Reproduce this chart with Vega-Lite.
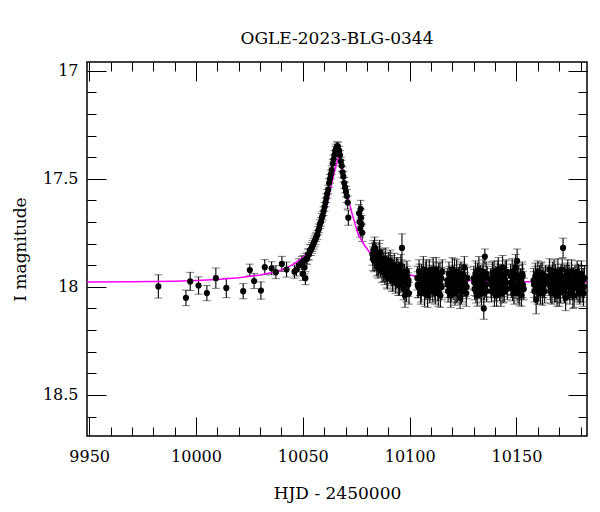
{
  "$schema": "https://vega.github.io/schema/vega-lite/v6.json",
  "width": 500,
  "height": 374,
  "autosize": {"type": "none"},
  "padding": {"left": 87, "top": 62, "right": 13, "bottom": 76},
  "title": {"text": "OGLE-2023-BLG-0344", "font": "DejaVu Serif", "fontSize": 17, "fontWeight": "normal", "color": "#000", "offset": 14},
  "config": {
    "view": {"stroke": "#000", "strokeWidth": 1.5},
    "axis": {"grid": false, "domain": false, "tickColor": "#000", "tickWidth": 1, "labelColor": "#000", "titleColor": "#000", "labelFont": "DejaVu Serif", "titleFont": "DejaVu Serif", "labelFontSize": 16, "titleFontSize": 17, "titleFontWeight": "normal", "zindex": 1}
  },
  "datasets": {
    "obs": [
      {"t":9982.4,"m":17.998,"e":0.054},{"t":9995.3,"m":18.051,"e":0.036},{"t":9997.3,"m":17.975,"e":0.042},{"t":10001.2,"m":17.994,"e":0.04},{"t":10005.1,"m":18.029,"e":0.035},{"t":10009.3,"m":17.96,"e":0.047},{"t":10014.2,"m":18.005,"e":0.045},{"t":10022.1,"m":18.02,"e":0.035},{"t":10025.2,"m":17.922,"e":0.027},{"t":10027.2,"m":17.973,"e":0.035},{"t":10030.4,"m":18.017,"e":0.04},{"t":10032.2,"m":17.909,"e":0.035},{"t":10035.4,"m":17.914,"e":0.03},{"t":10037.4,"m":17.932,"e":0.03},{"t":10040.2,"m":17.894,"e":0.035},{"t":10042.4,"m":17.92,"e":0.035},
      {"t":10046.1,"m":17.93,"e":0.03},{"t":10047.0,"m":17.92,"e":0.03},{"t":10048.2,"m":17.90,"e":0.03},{"t":10049.5,"m":17.89,"e":0.03},{"t":10049.9,"m":17.94,"e":0.03},{"t":10050.3,"m":17.88,"e":0.025},{"t":10050.8,"m":17.91,"e":0.03},{"t":10051.2,"m":17.96,"e":0.03},{"t":10051.6,"m":17.87,"e":0.025},{"t":10052.0,"m":17.87,"e":0.025},{"t":10052.4,"m":17.85,"e":0.025},{"t":10052.9,"m":17.85,"e":0.025},{"t":10053.3,"m":17.83,"e":0.025},{"t":10053.8,"m":17.83,"e":0.025},{"t":10054.2,"m":17.82,"e":0.025},{"t":10054.6,"m":17.81,"e":0.025},{"t":10055.0,"m":17.80,"e":0.025},{"t":10055.5,"m":17.79,"e":0.025},{"t":10055.9,"m":17.78,"e":0.025},{"t":10056.3,"m":17.77,"e":0.02},{"t":10056.8,"m":17.76,"e":0.02},{"t":10057.2,"m":17.74,"e":0.02},{"t":10057.6,"m":17.73,"e":0.02},{"t":10058.0,"m":17.71,"e":0.02},{"t":10058.5,"m":17.70,"e":0.02},{"t":10058.9,"m":17.68,"e":0.02},{"t":10059.3,"m":17.67,"e":0.02},{"t":10059.7,"m":17.65,"e":0.02},{"t":10060.2,"m":17.63,"e":0.02},{"t":10060.6,"m":17.61,"e":0.02},{"t":10061.0,"m":17.59,"e":0.02},{"t":10061.4,"m":17.57,"e":0.02},{"t":10061.9,"m":17.55,"e":0.02},{"t":10062.3,"m":17.52,"e":0.02},{"t":10062.7,"m":17.50,"e":0.02},{"t":10063.1,"m":17.48,"e":0.02},{"t":10063.5,"m":17.46,"e":0.02},{"t":10064.0,"m":17.43,"e":0.02},{"t":10064.4,"m":17.41,"e":0.02},{"t":10064.8,"m":17.39,"e":0.02},{"t":10065.2,"m":17.37,"e":0.02},{"t":10065.6,"m":17.36,"e":0.02},{"t":10066.0,"m":17.35,"e":0.02},{"t":10066.4,"m":17.35,"e":0.02},
      {"t":10067.0,"m":17.37,"e":0.02},{"t":10067.4,"m":17.39,"e":0.02},{"t":10067.8,"m":17.42,"e":0.02},{"t":10068.2,"m":17.44,"e":0.025},{"t":10068.6,"m":17.47,"e":0.025},{"t":10069.0,"m":17.49,"e":0.025},{"t":10069.4,"m":17.52,"e":0.025},{"t":10069.8,"m":17.54,"e":0.025},{"t":10070.2,"m":17.56,"e":0.025},{"t":10070.6,"m":17.58,"e":0.03},{"t":10071.0,"m":17.61,"e":0.03},{"t":10071.3,"m":17.68,"e":0.035},
      {"t":10076.3,"m":17.66,"e":0.04},{"t":10076.6,"m":17.70,"e":0.04},{"t":10076.9,"m":17.73,"e":0.04},{"t":10077.1,"m":17.64,"e":0.04},{"t":10077.2,"m":17.68,"e":0.04},{"t":10077.5,"m":17.71,"e":0.04},{"t":10077.8,"m":17.75,"e":0.04},
      {"t":10082.6,"m":17.85,"e":0.05},{"t":10083.0,"m":17.83,"e":0.045},{"t":10083.4,"m":17.88,"e":0.05},{"t":10083.8,"m":17.84,"e":0.045},{"t":10084.2,"m":17.87,"e":0.055},{"t":10084.6,"m":17.90,"e":0.05},{"t":10085.0,"m":17.86,"e":0.045},{"t":10085.4,"m":17.89,"e":0.055},{"t":10085.8,"m":17.85,"e":0.05},{"t":10086.3,"m":17.91,"e":0.045},{"t":10086.7,"m":17.88,"e":0.055},{"t":10087.1,"m":17.93,"e":0.05},{"t":10087.5,"m":17.87,"e":0.045},{"t":10087.9,"m":17.90,"e":0.055},{"t":10088.4,"m":17.94,"e":0.05},{"t":10088.8,"m":17.89,"e":0.045},{"t":10089.2,"m":17.92,"e":0.055},{"t":10089.6,"m":17.96,"e":0.05},{"t":10090.0,"m":17.90,"e":0.045},{"t":10090.5,"m":17.93,"e":0.055},{"t":10090.9,"m":17.88,"e":0.05},{"t":10091.3,"m":17.95,"e":0.045},{"t":10091.7,"m":17.91,"e":0.055},{"t":10092.1,"m":17.97,"e":0.05},{"t":10092.6,"m":17.92,"e":0.045},{"t":10093.0,"m":17.94,"e":0.055},{"t":10093.4,"m":17.98,"e":0.05},{"t":10093.8,"m":17.91,"e":0.045},{"t":10094.3,"m":17.95,"e":0.055},{"t":10094.7,"m":17.99,"e":0.05},{"t":10095.1,"m":17.93,"e":0.045},{"t":10095.5,"m":17.96,"e":0.065},{"t":10095.9,"m":17.90,"e":0.05},{"t":10096.4,"m":17.82,"e":0.065},{"t":10096.8,"m":17.97,"e":0.055},{"t":10097.2,"m":18.01,"e":0.05},{"t":10097.6,"m":17.94,"e":0.045},{"t":10098.0,"m":17.98,"e":0.055},{"t":10098.5,"m":18.02,"e":0.05},{"t":10098.9,"m":17.95,"e":0.045},{"t":10099.3,"m":17.99,"e":0.055},{"t":10099.7,"m":18.03,"e":0.05},
      {"t":10082.8,"m":17.87,"e":0.055},{"t":10083.6,"m":17.82,"e":0.05},{"t":10084.4,"m":17.86,"e":0.055},{"t":10085.2,"m":17.91,"e":0.05},{"t":10086.0,"m":17.84,"e":0.055},{"t":10086.9,"m":17.89,"e":0.05},{"t":10087.7,"m":17.92,"e":0.055},{"t":10088.6,"m":17.87,"e":0.05},{"t":10089.4,"m":17.95,"e":0.055},{"t":10090.2,"m":17.89,"e":0.05},{"t":10091.1,"m":17.93,"e":0.055},{"t":10091.9,"m":17.97,"e":0.05},{"t":10092.8,"m":17.90,"e":0.055},{"t":10093.6,"m":17.96,"e":0.05},{"t":10094.5,"m":17.92,"e":0.055},{"t":10095.3,"m":17.99,"e":0.05},{"t":10096.1,"m":17.93,"e":0.055},{"t":10097.0,"m":17.96,"e":0.05},{"t":10097.8,"m":18.04,"e":0.055},{"t":10098.7,"m":17.93,"e":0.05},{"t":10099.5,"m":17.97,"e":0.055},
      {"t":10103.6,"m":17.96,"e":0.055},{"t":10104.0,"m":18.00,"e":0.05},{"t":10104.4,"m":17.93,"e":0.055},{"t":10104.8,"m":17.98,"e":0.06},{"t":10105.2,"m":18.03,"e":0.05},{"t":10105.6,"m":17.95,"e":0.055},{"t":10106.0,"m":17.99,"e":0.05},{"t":10106.4,"m":17.92,"e":0.06},{"t":10106.8,"m":17.97,"e":0.055},{"t":10107.2,"m":18.01,"e":0.05},{"t":10107.6,"m":17.94,"e":0.055},{"t":10108.0,"m":17.98,"e":0.065},{"t":10108.4,"m":18.04,"e":0.055},{"t":10108.8,"m":17.96,"e":0.05},{"t":10109.2,"m":17.93,"e":0.055},{"t":10109.6,"m":18.00,"e":0.06},{"t":10110.0,"m":17.95,"e":0.05},{"t":10110.4,"m":17.99,"e":0.055},{"t":10110.8,"m":18.02,"e":0.05},{"t":10111.2,"m":17.94,"e":0.055},{"t":10111.6,"m":17.97,"e":0.06},{"t":10112.0,"m":18.03,"e":0.05},{"t":10112.4,"m":17.92,"e":0.055},{"t":10112.8,"m":17.98,"e":0.05},{"t":10113.2,"m":18.01,"e":0.055},{"t":10113.6,"m":17.95,"e":0.06},{"t":10114.0,"m":17.99,"e":0.05},{"t":10114.4,"m":18.04,"e":0.055},{"t":10114.8,"m":17.96,"e":0.05},{"t":10115.3,"m":17.93,"e":0.055},
      {"t":10103.8,"m":17.99,"e":0.06},{"t":10104.6,"m":17.95,"e":0.055},{"t":10105.4,"m":18.01,"e":0.06},{"t":10106.2,"m":17.96,"e":0.055},{"t":10107.0,"m":18.03,"e":0.06},{"t":10107.8,"m":17.93,"e":0.055},{"t":10108.6,"m":17.99,"e":0.06},{"t":10109.4,"m":18.02,"e":0.055},{"t":10110.2,"m":17.97,"e":0.06},{"t":10111.0,"m":17.92,"e":0.055},{"t":10111.8,"m":18.00,"e":0.06},{"t":10112.6,"m":17.96,"e":0.055},{"t":10113.4,"m":18.03,"e":0.06},{"t":10114.2,"m":17.94,"e":0.055},{"t":10115.0,"m":18.00,"e":0.06},
      {"t":10117.6,"m":17.97,"e":0.055},{"t":10118.0,"m":18.02,"e":0.05},{"t":10118.4,"m":17.94,"e":0.055},{"t":10118.8,"m":17.99,"e":0.06},{"t":10119.2,"m":18.04,"e":0.055},{"t":10119.6,"m":17.96,"e":0.05},{"t":10120.0,"m":17.92,"e":0.055},{"t":10120.4,"m":18.00,"e":0.06},{"t":10120.8,"m":17.95,"e":0.05},{"t":10121.2,"m":18.03,"e":0.055},{"t":10121.6,"m":17.98,"e":0.05},{"t":10122.0,"m":17.93,"e":0.055},{"t":10122.4,"m":18.01,"e":0.06},{"t":10122.8,"m":17.96,"e":0.05},{"t":10123.2,"m":17.99,"e":0.055},{"t":10123.6,"m":18.05,"e":0.05},{"t":10124.0,"m":17.94,"e":0.055},{"t":10124.4,"m":17.97,"e":0.06},{"t":10124.8,"m":18.02,"e":0.05},{"t":10125.2,"m":17.95,"e":0.055},{"t":10125.6,"m":17.91,"e":0.05},{"t":10126.0,"m":17.99,"e":0.055},{"t":10126.5,"m":18.03,"e":0.06},{"t":10127.0,"m":17.96,"e":0.05},
      {"t":10117.8,"m":17.99,"e":0.06},{"t":10118.6,"m":17.96,"e":0.055},{"t":10119.4,"m":18.01,"e":0.06},{"t":10120.2,"m":17.97,"e":0.055},{"t":10121.0,"m":17.93,"e":0.06},{"t":10121.8,"m":18.02,"e":0.055},{"t":10122.6,"m":17.98,"e":0.06},{"t":10123.4,"m":17.95,"e":0.055},{"t":10124.2,"m":18.02,"e":0.06},{"t":10125.0,"m":17.99,"e":0.055},{"t":10125.8,"m":17.96,"e":0.06},{"t":10126.7,"m":18.00,"e":0.055},
      {"t":10130.0,"m":17.96,"e":0.055},{"t":10130.4,"m":18.01,"e":0.05},{"t":10130.8,"m":17.94,"e":0.06},{"t":10131.2,"m":17.99,"e":0.055},{"t":10131.6,"m":18.04,"e":0.05},{"t":10132.0,"m":17.97,"e":0.055},{"t":10132.4,"m":17.92,"e":0.06},{"t":10132.8,"m":18.00,"e":0.055},{"t":10133.2,"m":17.95,"e":0.05},{"t":10133.6,"m":18.03,"e":0.055},{"t":10134.0,"m":17.98,"e":0.06},{"t":10134.4,"m":17.93,"e":0.055},{"t":10134.7,"m":18.10,"e":0.05},{"t":10135.2,"m":17.86,"e":0.035},{"t":10135.6,"m":17.99,"e":0.055},{"t":10136.0,"m":18.02,"e":0.05},{"t":10136.3,"m":17.96,"e":0.055},
      {"t":10130.2,"m":17.98,"e":0.06},{"t":10131.0,"m":18.02,"e":0.055},{"t":10131.8,"m":17.95,"e":0.06},{"t":10132.6,"m":17.99,"e":0.055},{"t":10133.4,"m":18.01,"e":0.06},{"t":10134.2,"m":17.96,"e":0.055},{"t":10135.0,"m":18.00,"e":0.06},{"t":10135.8,"m":17.94,"e":0.055},
      {"t":10137.9,"m":17.97,"e":0.055},{"t":10138.3,"m":18.02,"e":0.05},{"t":10138.7,"m":17.94,"e":0.055},{"t":10139.1,"m":17.99,"e":0.06},{"t":10139.5,"m":17.93,"e":0.05},{"t":10139.9,"m":18.01,"e":0.055},{"t":10140.3,"m":17.96,"e":0.055},{"t":10140.7,"m":18.04,"e":0.05},{"t":10141.1,"m":17.98,"e":0.06},{"t":10141.5,"m":17.92,"e":0.055},{"t":10141.9,"m":18.00,"e":0.05},{"t":10142.3,"m":17.95,"e":0.055},{"t":10142.7,"m":18.03,"e":0.06},{"t":10143.1,"m":17.97,"e":0.05},{"t":10143.5,"m":17.91,"e":0.055},{"t":10143.9,"m":17.99,"e":0.055},{"t":10144.3,"m":18.02,"e":0.05},{"t":10144.7,"m":17.94,"e":0.06},{"t":10145.1,"m":17.98,"e":0.055},{"t":10145.7,"m":18.01,"e":0.05},
      {"t":10138.1,"m":17.99,"e":0.06},{"t":10138.9,"m":17.95,"e":0.055},{"t":10139.7,"m":18.03,"e":0.06},{"t":10140.5,"m":17.98,"e":0.055},{"t":10141.3,"m":17.94,"e":0.06},{"t":10142.1,"m":18.01,"e":0.055},{"t":10142.9,"m":17.96,"e":0.06},{"t":10143.7,"m":18.02,"e":0.055},{"t":10144.5,"m":17.97,"e":0.06},{"t":10145.3,"m":17.93,"e":0.055},
      {"t":10147.2,"m":17.95,"e":0.055},{"t":10147.6,"m":18.00,"e":0.05},{"t":10148.0,"m":17.93,"e":0.06},{"t":10148.4,"m":17.98,"e":0.055},{"t":10148.8,"m":18.03,"e":0.05},{"t":10149.2,"m":17.96,"e":0.055},{"t":10149.6,"m":17.91,"e":0.06},{"t":10150.0,"m":17.99,"e":0.05},{"t":10150.3,"m":17.88,"e":0.055},{"t":10150.7,"m":18.02,"e":0.055},{"t":10151.1,"m":17.95,"e":0.05},{"t":10151.5,"m":18.00,"e":0.06},{"t":10151.9,"m":17.97,"e":0.055},{"t":10152.3,"m":18.04,"e":0.05},{"t":10152.7,"m":17.94,"e":0.055},{"t":10153.0,"m":17.99,"e":0.06},{"t":10153.4,"m":18.01,"e":0.05},
      {"t":10147.4,"m":17.98,"e":0.06},{"t":10148.2,"m":18.01,"e":0.055},{"t":10149.0,"m":17.94,"e":0.06},{"t":10149.8,"m":18.00,"e":0.055},{"t":10150.5,"m":17.96,"e":0.06},{"t":10151.3,"m":18.03,"e":0.055},{"t":10152.1,"m":17.98,"e":0.06},{"t":10152.9,"m":17.95,"e":0.055},
      {"t":10158.0,"m":17.97,"e":0.055},{"t":10158.4,"m":18.02,"e":0.05},{"t":10158.8,"m":17.95,"e":0.06},{"t":10159.2,"m":18.06,"e":0.065},{"t":10159.6,"m":17.99,"e":0.055},{"t":10160.0,"m":17.93,"e":0.05},{"t":10160.4,"m":18.01,"e":0.055},{"t":10160.8,"m":17.96,"e":0.06},{"t":10161.2,"m":18.03,"e":0.05},{"t":10161.6,"m":17.98,"e":0.055},{"t":10162.0,"m":17.94,"e":0.055},{"t":10162.4,"m":18.00,"e":0.05},{"t":10162.8,"m":17.97,"e":0.06},{"t":10163.2,"m":18.02,"e":0.055},{"t":10163.6,"m":17.95,"e":0.05},
      {"t":10158.2,"m":17.99,"e":0.06},{"t":10159.0,"m":17.96,"e":0.055},{"t":10159.8,"m":18.02,"e":0.06},{"t":10160.6,"m":17.98,"e":0.055},{"t":10161.4,"m":17.95,"e":0.06},{"t":10162.2,"m":18.03,"e":0.055},{"t":10163.0,"m":17.99,"e":0.06},
      {"t":10165.0,"m":17.96,"e":0.055},{"t":10165.4,"m":17.92,"e":0.05},{"t":10165.8,"m":18.00,"e":0.06},{"t":10166.2,"m":17.97,"e":0.055},{"t":10166.6,"m":18.03,"e":0.05},{"t":10167.0,"m":17.94,"e":0.055},{"t":10167.4,"m":17.99,"e":0.06},{"t":10167.8,"m":18.02,"e":0.05},{"t":10168.2,"m":17.95,"e":0.055},{"t":10168.6,"m":17.98,"e":0.055},{"t":10169.0,"m":18.04,"e":0.05},{"t":10169.4,"m":17.93,"e":0.06},{"t":10169.8,"m":18.00,"e":0.055},{"t":10170.2,"m":17.96,"e":0.05},{"t":10170.6,"m":18.02,"e":0.055},{"t":10171.0,"m":17.97,"e":0.06},{"t":10171.4,"m":17.92,"e":0.05},{"t":10171.8,"m":17.82,"e":0.045},{"t":10172.2,"m":18.01,"e":0.055},{"t":10172.6,"m":17.95,"e":0.05},{"t":10173.0,"m":18.05,"e":0.06},{"t":10173.4,"m":17.98,"e":0.055},{"t":10173.8,"m":17.94,"e":0.05},{"t":10174.2,"m":18.00,"e":0.055},{"t":10174.6,"m":17.96,"e":0.06},{"t":10175.0,"m":18.03,"e":0.05},{"t":10175.4,"m":17.99,"e":0.055},{"t":10175.8,"m":17.93,"e":0.055},{"t":10176.2,"m":18.01,"e":0.05},{"t":10176.6,"m":17.97,"e":0.06},{"t":10177.0,"m":18.04,"e":0.055},{"t":10177.4,"m":17.95,"e":0.05},
      {"t":10165.2,"m":17.98,"e":0.06},{"t":10166.0,"m":18.02,"e":0.055},{"t":10166.8,"m":17.96,"e":0.06},{"t":10167.6,"m":17.93,"e":0.055},{"t":10168.4,"m":18.01,"e":0.06},{"t":10169.2,"m":17.97,"e":0.055},{"t":10170.0,"m":18.03,"e":0.06},{"t":10170.8,"m":17.95,"e":0.055},{"t":10171.6,"m":17.99,"e":0.06},{"t":10172.4,"m":18.02,"e":0.055},{"t":10173.2,"m":17.96,"e":0.06},{"t":10174.0,"m":17.93,"e":0.055},{"t":10174.8,"m":18.00,"e":0.06},{"t":10175.6,"m":17.97,"e":0.055},{"t":10176.4,"m":18.04,"e":0.06},{"t":10177.2,"m":17.98,"e":0.055},
      {"t":10178.0,"m":17.98,"e":0.055},{"t":10178.4,"m":17.93,"e":0.05},{"t":10178.8,"m":18.01,"e":0.06},{"t":10179.2,"m":17.96,"e":0.055},{"t":10179.6,"m":18.03,"e":0.05},{"t":10180.0,"m":17.99,"e":0.055},{"t":10180.4,"m":17.94,"e":0.06},{"t":10180.8,"m":18.02,"e":0.05},{"t":10181.2,"m":17.97,"e":0.055},{"t":10181.6,"m":18.00,"e":0.05},
      {"t":10178.2,"m":18.00,"e":0.06},{"t":10179.0,"m":17.95,"e":0.055},{"t":10179.8,"m":18.01,"e":0.06},{"t":10180.6,"m":17.97,"e":0.055},{"t":10181.4,"m":18.03,"e":0.06},{"t":10181.8,"m":17.96,"e":0.055}
    ],
    "model": [
      {"t":9949,"m":17.978},{"t":9970,"m":17.977},{"t":9990,"m":17.974},{"t":10000,"m":17.971},{"t":10010,"m":17.966},{"t":10020,"m":17.958},{"t":10030,"m":17.945},{"t":10035,"m":17.935},{"t":10040,"m":17.922},{"t":10045,"m":17.9},{"t":10050,"m":17.865},{"t":10054,"m":17.82},{"t":10057,"m":17.76},{"t":10060,"m":17.67},{"t":10062,"m":17.59},{"t":10064,"m":17.5},{"t":10065.5,"m":17.44},{"t":10066.7,"m":17.4},{"t":10068,"m":17.44},{"t":10069.5,"m":17.51},{"t":10071,"m":17.58},{"t":10073,"m":17.66},{"t":10076,"m":17.76},{"t":10079,"m":17.81},{"t":10082,"m":17.85},{"t":10086,"m":17.885},{"t":10091,"m":17.915},{"t":10097,"m":17.938},{"t":10105,"m":17.956},{"t":10115,"m":17.966},{"t":10130,"m":17.972},{"t":10150,"m":17.976},{"t":10183,"m":17.978}
    ]
  },
  "resolve": {"axis": {"x": "independent", "y": "independent"}},
  "layer": [
    {
      "data": {"name": "obs"},
      "mark": {"type": "errorbar", "ticks": {"size": 8, "color": "#444", "strokeWidth": 1.2}, "rule": {"color": "#000", "strokeWidth": 1.1}},
      "encoding": {
        "x": {"field": "t", "type": "quantitative", "scale": {"domain": [9949, 10183], "nice": false, "zero": false},
              "axis": {"orient": "bottom", "values": [9960,9970,9980,9990,10010,10020,10030,10040,10060,10070,10080,10090,10110,10120,10130,10140,10160,10170,10180], "labels": false, "tickSize": -9, "title": null}},
        "y": {"field": "m", "type": "quantitative", "scale": {"domain": [16.96, 18.69], "reverse": true, "nice": false, "zero": false},
              "axis": {"orient": "left", "values": [17.1,17.2,17.3,17.4,17.6,17.7,17.8,17.9,18.1,18.2,18.3,18.4,18.6], "labels": false, "tickSize": -9, "title": null}},
        "yError": {"field": "e"}
      }
    },
    {
      "data": {"name": "model"},
      "mark": {"type": "line", "color": "#ff00ff", "strokeWidth": 1.5},
      "encoding": {
        "x": {"field": "t", "type": "quantitative", "scale": {"domain": [9949, 10183], "nice": false, "zero": false},
              "axis": {"orient": "top", "values": [9950,10000,10050,10100,10150], "labels": false, "tickSize": -19, "title": null}},
        "y": {"field": "m", "type": "quantitative", "scale": {"domain": [16.96, 18.69], "reverse": true, "nice": false, "zero": false},
              "axis": {"orient": "right", "values": [17,17.5,18,18.5], "labels": false, "tickSize": -19, "title": null}}
      }
    },
    {
      "data": {"name": "obs"},
      "mark": {"type": "point", "filled": true, "color": "#000", "size": 38, "opacity": 1},
      "encoding": {
        "x": {"field": "t", "type": "quantitative", "scale": {"domain": [9949, 10183], "nice": false, "zero": false},
              "axis": {"orient": "bottom", "values": [9950,10000,10050,10100,10150], "format": "d", "ticks": false, "labelPadding": 12, "labelFlush": false, "labelOverlap": false, "labelBound": false, "title": "HJD - 2450000", "titlePadding": 21}},
        "y": {"field": "m", "type": "quantitative", "scale": {"domain": [16.96, 18.69], "reverse": true, "nice": false, "zero": false},
              "axis": {"orient": "left", "values": [17,17.5,18,18.5], "format": "~g", "ticks": false, "labelPadding": 9, "labelFlush": false, "labelOverlap": false, "labelBound": false, "title": "I magnitude", "titlePadding": 13}}
      }
    },
    {
      "data": {"name": "model"},
      "mark": {"type": "point", "opacity": 0},
      "encoding": {
        "x": {"field": "t", "type": "quantitative", "scale": {"domain": [9949, 10183], "nice": false, "zero": false},
              "axis": {"orient": "bottom", "values": [9950,10000,10050,10100,10150], "labels": false, "tickSize": -19, "title": null}},
        "y": {"field": "m", "type": "quantitative", "scale": {"domain": [16.96, 18.69], "reverse": true, "nice": false, "zero": false},
              "axis": {"orient": "left", "values": [17,17.5,18,18.5], "labels": false, "tickSize": -19, "title": null}}
      }
    },
    {
      "data": {"name": "model"},
      "mark": {"type": "point", "opacity": 0},
      "encoding": {
        "x": {"field": "t", "type": "quantitative", "scale": {"domain": [9949, 10183], "nice": false, "zero": false},
              "axis": {"orient": "top", "values": [9960,9970,9980,9990,10010,10020,10030,10040,10060,10070,10080,10090,10110,10120,10130,10140,10160,10170,10180], "labels": false, "tickSize": -9, "title": null}},
        "y": {"field": "m", "type": "quantitative", "scale": {"domain": [16.96, 18.69], "reverse": true, "nice": false, "zero": false},
              "axis": {"orient": "right", "values": [17.1,17.2,17.3,17.4,17.6,17.7,17.8,17.9,18.1,18.2,18.3,18.4,18.6], "labels": false, "tickSize": -9, "title": null}}
      }
    }
  ]
}
